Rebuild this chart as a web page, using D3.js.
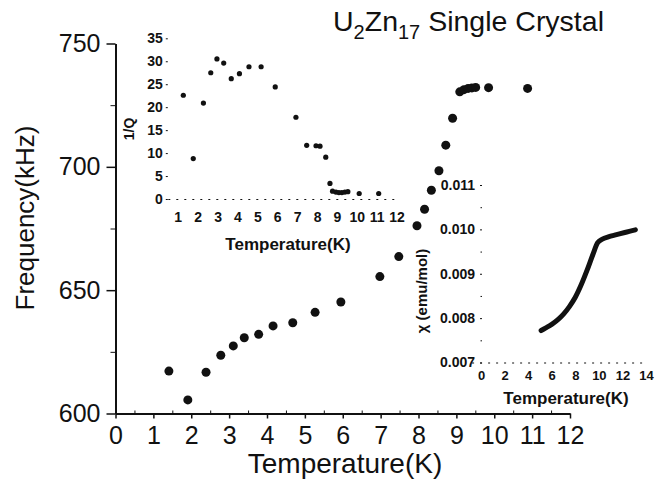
<!DOCTYPE html>
<html>
<head>
<meta charset="utf-8">
<script src="https://cdn.jsdelivr.net/npm/d3@7"></script>
<style>
	body { margin: 0; background: #fff; }
	svg { display: block; font-family: "Liberation Sans", Arial, sans-serif; }
	.axis text { fill: #111; }
	.axis path, .axis line { stroke: #111; }
	.inset text { font-weight: bold; }
</style>
</head>
<body>
<div id="chart"></div>
<script>
// main plot: resonance frequency vs temperature
const freqTemp = [1.41, 1.91, 2.39, 2.78, 3.11, 3.40, 3.78, 4.16, 4.68, 5.27, 5.95, 6.98, 7.48, 7.96, 8.16, 8.34, 8.54, 8.72, 8.90, 9.09, 9.20, 9.31, 9.41, 9.51, 9.85, 10.88];
const freqValue = [617.2, 605.5, 616.7, 623.6, 627.4, 630.7, 632.1, 635.5, 636.8, 641.0, 645.2, 655.5, 663.6, 676.1, 682.8, 690.5, 698.4, 708.8, 719.7, 730.4, 731.3, 731.8, 732.0, 732.2, 732.1, 731.8];
const mainXTicks = [0, 1, 2, 3, 4, 5, 6, 7, 8, 9, 10, 11, 12];
const mainYTicks = [600, 650, 700, 750];

// inset 1: internal friction 1/Q
const qTemp = [1.28, 1.78, 2.29, 2.66, 2.97, 3.31, 3.69, 4.10, 4.58, 5.19, 5.90, 6.94, 7.48, 7.95, 8.15, 8.44, 8.65, 8.78, 8.95, 9.10, 9.25, 9.40, 9.55, 10.12, 11.1];
const qValue = [22.6, 8.8, 20.9, 27.5, 30.5, 29.6, 26.2, 27.3, 28.8, 28.8, 24.4, 17.8, 11.7, 11.6, 11.5, 9.1, 3.4, 1.7, 1.5, 1.4, 1.4, 1.5, 1.6, 1.2, 1.2];
const qXTicks = [1, 2, 3, 4, 5, 6, 7, 8, 9, 10, 11, 12];
const qYTicks = [0, 5, 10, 15, 20, 25, 30, 35];

// inset 2: susceptibility
const chiTemp = [5.1, 5.5, 6.0, 6.5, 7.0, 7.5, 8.0, 8.5, 9.0, 9.5, 9.9, 10.3, 10.8, 11.5, 12.2, 13.1];
const chiValue = [0.00772, 0.00778, 0.00786, 0.00796, 0.00809, 0.00826, 0.00847, 0.00875, 0.00908, 0.00944, 0.00970, 0.00978, 0.00983, 0.00988, 0.00993, 0.00999];
const chiXTicks = [0, 2, 4, 6, 8, 10, 12, 14];
const chiYTicks = [0.007, 0.008, 0.009, 0.010, 0.011];

const W = 667, H = 487;
const INK = "#111";

const svg = d3.select("#chart").append("svg")
	.attr("width", W)
	.attr("height", H);

// ---------- main plot ----------
const x = d3.scaleLinear().domain([0, 12]).range([115.5, 570]);
const y = d3.scaleLinear().domain([600, 750]).range([413.5, 43.5]);

const xAxis = svg.append("g")
	.attr("class", "axis")
	.attr("transform", `translate(0,${y(600)})`)
	.call(d3.axisBottom(x).tickValues(mainXTicks).tickSize(5).tickPadding(8).tickSizeOuter(0).tickFormat(d3.format("d")));
xAxis.select(".domain").attr("stroke-width", 2);
xAxis.selectAll(".tick line").attr("stroke-width", 1.5);
xAxis.selectAll("text").attr("font-size", 25);

svg.append("g")
	.attr("class", "axis")
	.attr("transform", `translate(0,${y(600)})`)
	.call(d3.axisBottom(x).tickValues(d3.range(0.5, 12, 1)).tickSize(-3).tickFormat(""))
	.call(g => g.select(".domain").remove());

const yAxis = svg.append("g")
	.attr("class", "axis")
	.attr("transform", `translate(${x(0)},0)`)
	.call(d3.axisLeft(y).tickValues(mainYTicks).tickSize(9).tickPadding(6).tickSizeOuter(0));
yAxis.select(".domain").attr("stroke-width", 2);
yAxis.selectAll(".tick line").attr("stroke-width", 1.5);
yAxis.selectAll("text").attr("font-size", 25);

svg.append("g")
	.attr("class", "axis")
	.attr("transform", `translate(${x(0)},0)`)
	.call(d3.axisLeft(y).tickValues([625, 675, 725]).tickSize(5).tickFormat(""))
	.call(g => g.select(".domain").remove());

svg.append("text")
	.attr("x", 345)
	.attr("y", 473)
	.attr("text-anchor", "middle")
	.attr("font-size", 28)
	.attr("fill", INK)
	.text("Temperature(K)");

svg.append("text")
	.attr("transform", "translate(34,218) rotate(-90)")
	.attr("text-anchor", "middle")
	.attr("font-size", 26)
	.attr("fill", INK)
	.text("Frequency(kHz)");

const title = svg.append("text")
	.attr("x", 333)
	.attr("y", 31)
	.attr("font-size", 28.5)
	.attr("fill", INK);
title.append("tspan").text("U");
title.append("tspan").attr("font-size", 20).attr("dy", 8).text("2");
title.append("tspan").attr("dy", -8).text("Zn");
title.append("tspan").attr("font-size", 20).attr("dy", 8).text("17");
title.append("tspan").attr("dy", -8).text(" Single Crystal");

svg.append("g")
	.selectAll("circle")
	.data(freqTemp)
	.enter()
	.append("circle")
	.attr("cx", d => x(d))
	.attr("cy", (d, i) => y(freqValue[i]))
	.attr("r", 4.5)
	.attr("fill", INK);

// ---------- inset 1: 1/Q ----------
const qx = d3.scaleLinear().domain([0.5, 12]).range([167.8, 396.6]);
const qy = d3.scaleLinear().domain([0, 35]).range([199, 38.3]);

const inset1 = svg.append("g").attr("class", "inset");

const qxAxis = inset1.append("g")
	.attr("class", "axis")
	.attr("transform", `translate(0,${qy(0)})`)
	.call(d3.axisBottom(qx).tickValues(qXTicks).tickSize(0).tickPadding(13).tickSizeOuter(0));
qxAxis.select(".domain").attr("stroke", "#888").attr("stroke-dasharray", "2,6");
qxAxis.selectAll("text").attr("font-size", 14);

const qyAxis = inset1.append("g")
	.attr("class", "axis")
	.attr("transform", `translate(${qx(0.5)},0)`)
	.call(d3.axisLeft(qy).tickValues(qYTicks).tickSize(2).tickPadding(3));
qyAxis.select(".domain").remove();
qyAxis.selectAll(".tick line").attr("stroke", "#777");
qyAxis.selectAll("text").attr("font-size", 14);

inset1.append("text")
	.attr("x", 288)
	.attr("y", 250)
	.attr("text-anchor", "middle")
	.attr("font-size", 17)
	.attr("fill", INK)
	.text("Temperature(K)");

inset1.append("text")
	.attr("transform", "translate(134,129) rotate(-90)")
	.attr("text-anchor", "middle")
	.attr("font-size", 14)
	.attr("fill", INK)
	.text("1/Q");

inset1.append("g")
	.selectAll("circle")
	.data(qTemp)
	.enter()
	.append("circle")
	.attr("cx", d => qx(d))
	.attr("cy", (d, i) => qy(qValue[i]))
	.attr("r", 2.6)
	.attr("fill", INK);

// ---------- inset 2: chi ----------
const cx = d3.scaleLinear().domain([-0.8, 14]).range([471.6, 646]);
const cy = d3.scaleLinear().domain([0.007, 0.011]).range([362.5, 185]);

const inset2 = svg.append("g").attr("class", "inset");

const cxAxis = inset2.append("g")
	.attr("class", "axis")
	.attr("transform", `translate(0,${cy(0.007)})`)
	.call(d3.axisBottom(cx).tickValues(chiXTicks).tickSize(0).tickPadding(8).tickSizeOuter(0));
cxAxis.select(".domain").attr("stroke", "#888").attr("stroke-dasharray", "2,6");
cxAxis.selectAll("text").attr("font-size", 13);

const cyAxis = inset2.append("g")
	.attr("class", "axis")
	.attr("transform", `translate(482,0)`)
	.call(d3.axisLeft(cy).tickValues(chiYTicks).tickSize(2).tickPadding(5).tickFormat(d3.format(".3f")));
cyAxis.select(".domain").remove();
cyAxis.selectAll(".tick line").attr("stroke", "#777");
cyAxis.selectAll("text").attr("font-size", 14).attr("font-weight", "normal");

inset2.append("g")
	.attr("class", "axis")
	.attr("transform", `translate(482,0)`)
	.call(d3.axisLeft(cy).tickValues([0.0075, 0.0085, 0.0095, 0.0105]).tickSize(1.5).tickFormat(""))
	.call(g => g.select(".domain").remove())
	.call(g => g.selectAll(".tick line").attr("stroke", "#999"));

inset2.append("text")
	.attr("x", 566)
	.attr("y", 404)
	.attr("text-anchor", "middle")
	.attr("font-size", 17)
	.attr("fill", INK)
	.text("Temperature(K)");

inset2.append("text")
	.attr("transform", "translate(427,291) rotate(-90)")
	.attr("text-anchor", "middle")
	.attr("font-size", 15)
	.attr("fill", INK)
	.text("χ (emu/mol)");

const chiLine = d3.line()
	.x(d => cx(d))
	.y((d, i) => cy(chiValue[i]))
	.curve(d3.curveMonotoneX);

inset2.append("path")
	.attr("d", chiLine(chiTemp))
	.attr("fill", "none")
	.attr("stroke", INK)
	.attr("stroke-width", 5)
	.attr("stroke-linecap", "round")
	.attr("stroke-linejoin", "round");
</script>
</body>
</html>
